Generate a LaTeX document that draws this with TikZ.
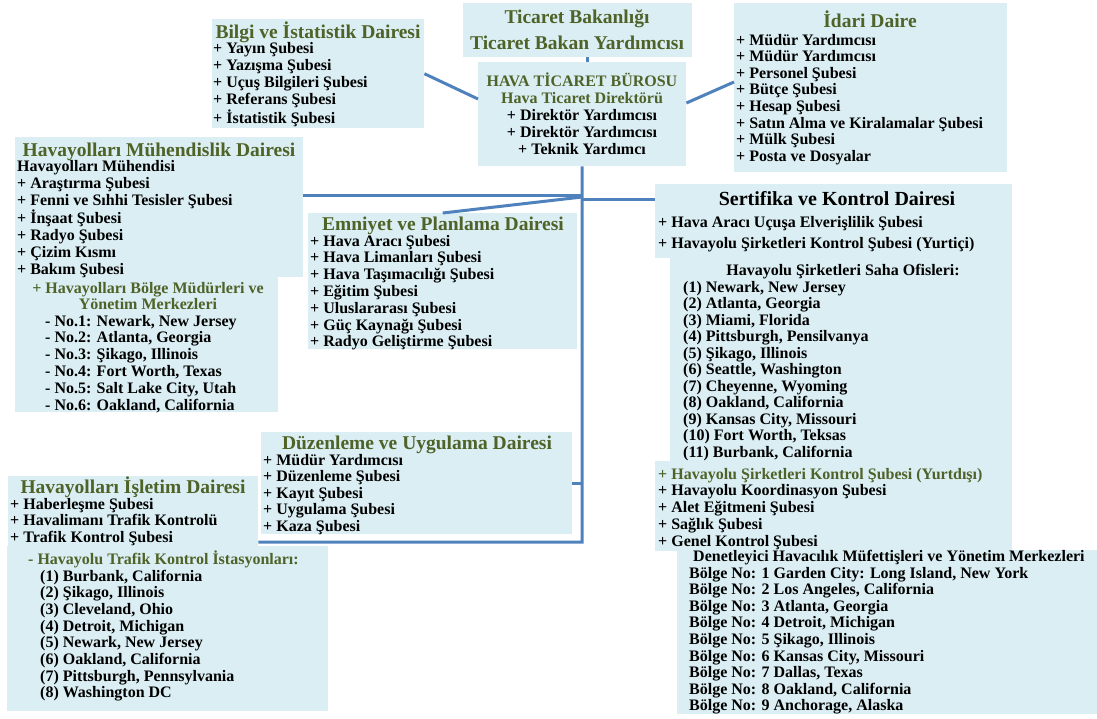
\documentclass[tikz,border=0pt]{standalone}
\usepackage{fontspec}
\setmainfont{Liberation Serif}
\usetikzlibrary{calc}
\definecolor{boxfill}{HTML}{DAEEF3}
\definecolor{tgreen}{HTML}{4F6228}
\definecolor{lblue}{HTML}{4F81BD}
\tikzset{
  bx/.style={fill=boxfill, draw=none, inner sep=0, anchor=north west},
  items/.style={inner sep=0, anchor=base west, align=left, font=\fontsize{16}{#1}\selectfont\bfseries},
  items/.default=16.8,
  citems/.style={inner sep=0, anchor=base, align=center, font=\fontsize{16}{#1}\selectfont\bfseries},
  citems/.default=16.8,
  ttl/.style={inner sep=0, anchor=base, align=center, text=tgreen, font=\fontsize{19.5}{#1}\selectfont\bfseries},
  ttl/.default=22,
  conn/.style={draw=lblue, line width=3pt},
}
\begin{document}
\begin{tikzpicture}[x=1pt, y=-1pt]
\useasboundingbox (0,0) rectangle (1097,718);

% ---------- boxes ----------
\node[bx, minimum width=229, minimum height=54] (ticaret) at (463,3) {};
\node[bx, minimum width=208, minimum height=104] (hava) at (478,62) {};
\node[bx, minimum width=212, minimum height=109] (bilgi) at (212,19) {};
\node[bx, minimum width=273, minimum height=169] (idari) at (734,3) {};
\node[bx, minimum width=288, minimum height=140] (muhA) at (15,137) {};
\node[bx, minimum width=263, minimum height=136] (muhB) at (15,276) {};
\node[bx, minimum width=269, minimum height=136] (emniyet) at (308,213) {};
\node[bx, minimum width=357, minimum height=74] (sertA) at (655,184) {};
\node[bx, minimum width=342, minimum height=205] (sertB) at (670,257) {};
\node[bx, minimum width=357, minimum height=90] (sertC) at (655,461) {};
\node[bx, minimum width=420, minimum height=164] (denet) at (677,550) {};
\node[bx, minimum width=311, minimum height=102] (duzen) at (261,432) {};
\node[bx, minimum width=250, minimum height=71] (isletA) at (8,476) {};
\node[bx, minimum width=321, minimum height=165] (isletB) at (7,546) {};

% ---------- connectors ----------
\coordinate (tk) at (587,0);
\coordinate (J1) at (582,195);
\coordinate (J2) at (582,197);
\coordinate (J3) at (582,199);
\coordinate (JD) at (582,483);
\coordinate (JB) at (582,542);
\draw[conn] (ticaret.south -| tk) -- (hava.north -| tk);
\draw[conn] (bilgi.east) -- ($(hava.north west)+(0,37)$);
\draw[conn] ($(hava.north east)+(0,41)$) -- ($(idari.north west)+(0,79)$);
\draw[conn] (hava.south) -- (JB) -- (isletA.east |- JB);
\draw[conn] (muhA.east |- J1) -- (J1);
\draw[conn] (emniyet.north) -- (J2);
\draw[conn] (J3) -- (sertA.west |- J3);
\draw[conn] (duzen.east |- JD) -- (JD);

% ---------- texts (multi-line nodes: base = baseline of last line) ----------
\node[ttl=26] (ticaretT) at (577,49) {Ticaret Bakanlığı\\Ticaret Bakan Yardımcısı};

\node[citems=17] (havaT) at (582,154)
  {\textcolor{tgreen}{HAVA TİCARET BÜROSU}\\\textcolor{tgreen}{Hava Ticaret Direktörü}\\+ Direktör Yardımcısı\\+ Direktör Yardımcısı\\+ Teknik Yardımcı};

\node[ttl] (bilgiT) at (318,38) {Bilgi ve İstatistik Dairesi};
\node[items=17] (bilgiL) at (213,123)
  {+ Yayın Şubesi\\+ Yazışma Şubesi\\+ Uçuş Bilgileri Şubesi\\+ Referans Şubesi\\+ İstatistik Şubesi};

\node[ttl] (idariT) at (870,27) {İdari Daire};
\node[items=16.6] (idariL) at (736,161.2)
  {+ Müdür Yardımcısı\\+ Müdür Yardımcısı\\+ Personel Şubesi\\+ Bütçe Şubesi\\+ Hesap Şubesi\\+ Satın Alma ve Kiralamalar Şubesi\\+ Mülk Şubesi\\+ Posta ve Dosyalar};

\node[ttl] (muhT) at (159,156) {Havayolları Mühendislik Dairesi};
\node[items=16.85] (muhL) at (17,274.1)
  {Havayolları Mühendisi\\+ Araştırma Şubesi\\+ Fenni ve Sıhhi Tesisler Şubesi\\+ İnşaat Şubesi\\+ Radyo Şubesi\\+ Çizim Kısmı\\+ Bakım Şubesi};
\node[citems=16.5, text=tgreen] (muhG) at (148,309.5)
  {+ Havayolları Bölge Müdürleri ve\\Yönetim Merkezleri};
\node[items=16.8] (muhN) at (45,410)
  {- No.1: Newark, New Jersey\\- No.2: Atlanta, Georgia\\- No.3: Şikago, Illinois\\- No.4: Fort Worth, Texas\\- No.5: Salt Lake City, Utah\\- No.6: Oakland, California};

\node[ttl] (emniyetT) at (443,230) {Emniyet ve Planlama Dairesi};
\node[items=16.8] (emniyetL) at (310,346.8)
  {+ Hava Aracı Şubesi\\+ Hava Limanları Şubesi\\+ Hava Taşımacılığı Şubesi\\+ Eğitim Şubesi\\+ Uluslararası Şubesi\\+ Güç Kaynağı Şubesi\\+ Radyo Geliştirme Şubesi};

\node[ttl, text=black, font=\fontsize{20}{22}\selectfont\bfseries] (sertT) at (837,205) {Sertifika ve Kontrol Dairesi};
\node[items=21] (sertL) at (658,248)
  {+ Hava Aracı Uçuşa Elverişlilik Şubesi\\+ Havayolu Şirketleri Kontrol Şubesi (Yurtiçi)};
\node[citems] (sertS) at (843,275) {Havayolu Şirketleri Saha Ofisleri:};
\node[items=16.5] (sertO) at (683,457)
  {(1) Newark, New Jersey\\(2) Atlanta, Georgia\\(3) Miami, Florida\\(4) Pittsburgh, Pensilvanya\\(5) Şikago, Illinois\\(6) Seattle, Washington\\(7) Cheyenne, Wyoming\\(8) Oakland, California\\(9) Kansas City, Missouri\\(10) Fort Worth, Teksas\\(11) Burbank, California};
\node[items=16.75] (sertCL) at (658,546)
  {\textcolor{tgreen}{+ Havayolu Şirketleri Kontrol Şubesi (Yurtdışı)}\\+ Havayolu Koordinasyon Şubesi\\+ Alet Eğitmeni Şubesi\\+ Sağlık Şubesi\\+ Genel Kontrol Şubesi};

\node[items] (denetT) at (693,561) {Denetleyici Havacılık Müfettişleri ve Yönetim Merkezleri};
\node[items=16.6] (denetL) at (689,710.8)
  {Bölge No: 1 Garden City: Long Island, New York\\Bölge No: 2 Los Angeles, California\\Bölge No: 3 Atlanta, Georgia\\Bölge No: 4 Detroit, Michigan\\Bölge No: 5 Şikago, Illinois\\Bölge No: 6 Kansas City, Missouri\\Bölge No: 7 Dallas, Texas\\Bölge No: 8 Oakland, California\\Bölge No: 9 Anchorage, Alaska};

\node[ttl] (duzenT) at (417,449) {Düzenleme ve Uygulama Dairesi};
\node[items=16.5] (duzenL) at (263,531)
  {+ Müdür Yardımcısı\\+ Düzenleme Şubesi\\+ Kayıt Şubesi\\+ Uygulama Şubesi\\+ Kaza Şubesi};

\node[ttl] (isletT) at (133,493) {Havayolları İşletim Dairesi};
\node[items=16.5] (isletL) at (10,542)
  {+ Haberleşme Şubesi\\+ Havalimanı Trafik Kontrolü\\+ Trafik Kontrol Şubesi};
\node[items, text=tgreen] (isletG) at (28,564) {- Havayolu Trafik Kontrol İstasyonları:};
\node[items=16.7] (isletN) at (40,697.9)
  {(1) Burbank, California\\(2) Şikago, Illinois\\(3) Cleveland, Ohio\\(4) Detroit, Michigan\\(5) Newark, New Jersey\\(6) Oakland, California\\(7) Pittsburgh, Pennsylvania\\(8) Washington DC};
\end{tikzpicture}
\end{document}
